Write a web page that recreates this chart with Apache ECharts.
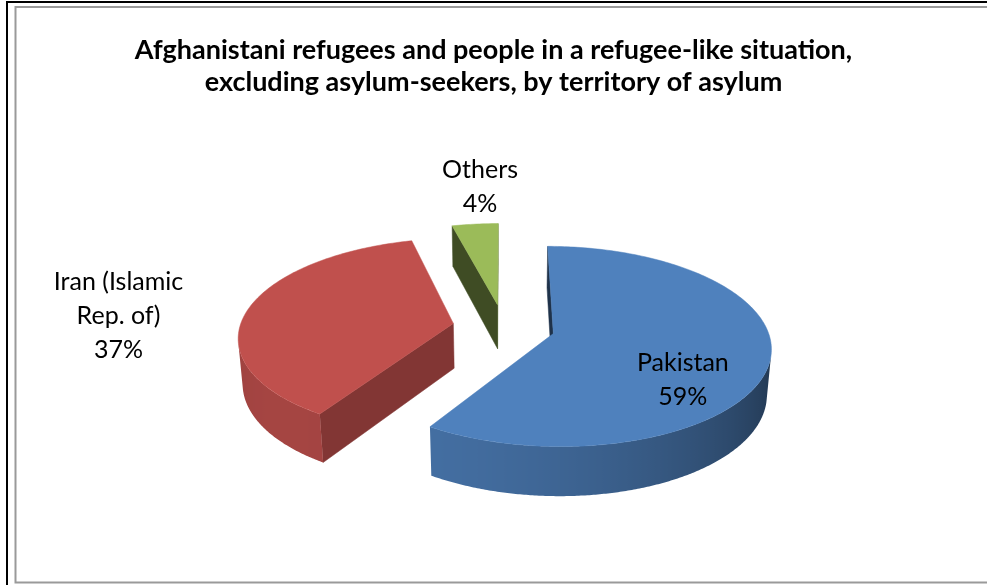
<!DOCTYPE html>
<html><head><meta charset="utf-8">
<script src="https://cdn.jsdelivr.net/npm/echarts@6/dist/echarts.min.js"></script>
<style>html,body{margin:0;padding:0;background:#fff;}#chart{width:987px;height:585px;}</style>
</head><body><div id="chart"></div>
<script>
// ---- data ----
const categories = ['Pakistan', 'Iran (Islamic Rep. of)', 'Others'];
const labelTexts = ['Pakistan', 'Iran (Islamic\nRep. of)', 'Others'];
const values = [59, 37, 4];
const titleLines = [
  'Afghanistani refugees and people in a refugee-like situation,',
  'excluding asylum-seekers, by territory of asylum'
];

// ---- style config ----
const topColors = ['#4F81BD', '#C0504D', '#9BBB59'];
const labelDist = [0.62, 1.66, 1.86];
const labelShift = [[-3, 6], [2, -5], [24, 13]];
const FONT = 'Lato, "Open Sans", sans-serif';
const VIEW = { cxF: 503.7 / 987, cyF: 372 / 585, S: 210, D: 7, sinT: 0.48, H: 0.24, explode: 0.24 };
VIEW.cosT = Math.sqrt(1 - VIEW.sinT * VIEW.sinT);

const total = values.reduce((a, b) => a + b, 0);
const rad = d => d * Math.PI / 180;
const dir = a => [Math.sin(rad(a)), Math.cos(rad(a))];

function slices() {
  let cum = 0;
  return values.map((v, i) => {
    const a0 = 360 * cum / total; cum += v;
    const a1 = 360 * cum / total;
    const mid = (a0 + a1) / 2;
    const d = dir(mid);
    return { i, a0, a1, mid, ax: d[0] * VIEW.explode, az: d[1] * VIEW.explode };
  });
}

function shade(hex, b) {
  const n = parseInt(hex.slice(1), 16);
  const r = Math.min(255, Math.round(((n >> 16) & 255) * b));
  const g = Math.min(255, Math.round(((n >> 8) & 255) * b));
  const bl = Math.min(255, Math.round((n & 255) * b));
  return 'rgb(' + r + ',' + g + ',' + bl + ')';
}
const wallLight = phi => 0.58 + 0.28 * Math.cos(rad(phi - 225));
const sideLight = phi => 0.53 + 0.15 * Math.cos(rad(phi - 110));

function renderItem(params, api) {
  const W = api.getWidth(), Hh = api.getHeight();
  const cx = VIEW.cxF * W, cy = VIEW.cyF * Hh;
  const { S, D, sinT, cosT, H } = VIEW;
  const proj = (X, Z, Y) => {
    const yc = Z * sinT + Y * cosT;
    const zc = D + Z * cosT - Y * sinT;
    const k = S * D / zc;
    return [cx + X * k, cy - yc * k, zc];
  };
  const camZ = -D * cosT;
  const all = slices();
  const s = all[params.dataIndex];
  const depthOf = t => proj(t.ax, t.az, H)[2];
  const order = all.slice().sort((p, q) => depthOf(q) - depthOf(p)).map(t => t.i);
  const rank = order.indexOf(s.i);
  const color = topColors[s.i];
  const rim = (a, Y) => { const d = dir(a); return proj(s.ax + d[0], s.az + d[1], Y); };
  const apex = Y => proj(s.ax, s.az, Y);
  const visible = (n, px, pz) => n[0] * (0 - px) + n[1] * (camZ - pz) > 0;
  const faces = [];
  // outer curved wall: contiguous visible runs, one gradient polygon each
  const steps = Math.max(4, Math.ceil((s.a1 - s.a0) / 0.5));
  const st = (s.a1 - s.a0) / steps;
  const runs = [];
  let cur = null;
  for (let k = 0; k <= steps; k++) {
    const a = s.a0 + k * st;
    const n = dir(a);
    const vis = visible(n, s.ax + n[0], s.az + n[1]);
    if (vis) { if (!cur) { cur = []; runs.push(cur); } cur.push(a); }
    else cur = null;
  }
  runs.forEach(run => {
    if (run.length < 2) return;
    const tops = run.map(a => rim(a, H));
    const bots = run.map(a => rim(a, 0));
    const pts = tops.concat(bots.slice().reverse());
    const xs = tops.map(p => p[0]);
    const x0 = Math.min.apply(null, xs), x1 = Math.max.apply(null, xs);
    const stops = run.map((a, k) => ({
      offset: x1 > x0 ? (xs[k] - x0) / (x1 - x0) : 0,
      color: shade(color, wallLight(a))
    })).sort((p, q) => p.offset - q.offset);
    const fill = new echarts.graphic.LinearGradient(x0, 0, x1, 0, stops, true);
    faces.push({ pts, fill, stroke: null, depth: pts.reduce((t, p) => t + p[2], 0) / pts.length });
  });
  // radial walls
  [[s.a0, s.a0 - 90], [s.a1, s.a1 + 90]].forEach(([a, na]) => {
    const n = dir(na), d = dir(a);
    if (!visible(n, s.ax + d[0] / 2, s.az + d[1] / 2)) return;
    const pts = [apex(H), rim(a, H), rim(a, 0), apex(0)];
    const c = shade(color, sideLight(na));
    faces.push({ pts, fill: c, stroke: c, depth: pts.reduce((t, p) => t + p[2], 0) / 4 });
  });
  faces.sort((p, q) => q.depth - p.depth);
  const children = faces.map((f, k) => ({
    type: 'polygon', z2: rank * 1000 + k,
    shape: { points: f.pts.map(p => [p[0], p[1]]) },
    style: f.stroke ? { fill: f.fill, stroke: f.stroke, lineWidth: 0.5 } : { fill: f.fill }
  }));
  // top face
  const topPts = [apex(H)];
  const tsteps = Math.max(2, Math.ceil((s.a1 - s.a0)));
  for (let k = 0; k <= tsteps; k++) topPts.push(rim(s.a0 + (s.a1 - s.a0) * k / tsteps, H));
  children.push({
    type: 'polygon', z2: rank * 1000 + 900,
    shape: { points: topPts.map(p => [p[0], p[1]]) },
    style: { fill: color, stroke: color, lineWidth: 0.5 }
  });
  // label
  const ap = apex(H / 2), rp = rim(s.mid, H / 2);
  const f = labelDist[s.i];
  const pct = Math.round(api.value(0) / total * 100);
  children.push({
    type: 'text', z2: 5000,
    x: ap[0] + (rp[0] - ap[0]) * f + labelShift[s.i][0],
    y: ap[1] + (rp[1] - ap[1]) * f + labelShift[s.i][1],
    style: {
      text: labelTexts[s.i] + '\n' + pct + '%', fill: '#000',
      fontFamily: FONT, fontSize: 25, lineHeight: 34,
      align: 'center', verticalAlign: 'middle'
    }
  });
  return { type: 'group', children };
}

const chart = echarts.init(document.getElementById('chart'), null, { renderer: 'canvas' });
chart.setOption({
  backgroundColor: '#fff',
  animation: false,
  title: {
    text: titleLines.join('\n'), left: 'center', top: 34, padding: [0, 0, 0, 7],
    textStyle: { fontFamily: FONT, fontWeight: 'bold', fontSize: 27, lineHeight: 32, color: '#000' }
  },
  graphic: [
    { type: 'polyline', silent: true, z: 10, shape: { points: [[7, 590], [7, 2], [995, 2]] }, style: { stroke: '#000', lineWidth: 2, fill: null } },
    { type: 'rect', silent: true, z: 10, shape: { x: 15.5, y: 7, width: 990, height: 575.5 }, style: { stroke: '#9a9a9a', lineWidth: 2, fill: null } }
  ],
  series: [{
    type: 'custom', coordinateSystem: 'none', silent: true,
    data: values.map((v, i) => ({ name: categories[i], value: [v, i] })),
    renderItem
  }]
});
</script></body></html>
